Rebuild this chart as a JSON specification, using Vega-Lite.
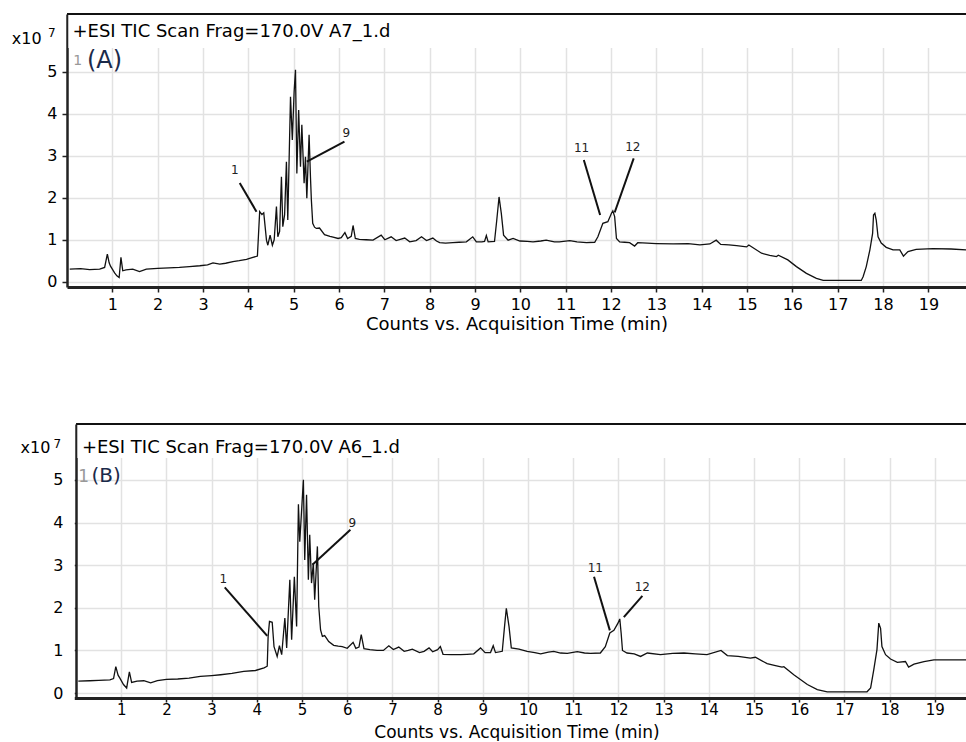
{
"$schema": "https://vega.github.io/schema/vega-lite/v6.json",
"background": "white",
"padding": {"left": 11, "top": 13, "right": 0, "bottom": 0},
"spacing": 90,
"config": {
  "font": "DejaVu Sans",
  "view": {"stroke": null},
  "axis": {"labelFont": "DejaVu Sans", "titleFont": "DejaVu Sans", "labelColor": "#000", "titleColor": "#000", "gridColor": "#e2e2e2", "gridWidth": 1.5, "domainColor": "#222", "tickColor": "#222", "labelFontSize": 16, "titleFontWeight": "normal", "labelFlush": false, "labelOverlap": false}
},
"datasets": {
  "traceA": [
    {"time":0.06,"counts":0.30},{"time":0.30,"counts":0.31},{"time":0.50,"counts":0.29},{"time":0.72,"counts":0.30},{"time":0.83,"counts":0.34},{"time":0.89,"counts":0.66},{"time":0.93,"counts":0.45},{"time":0.96,"counts":0.37},{"time":1.05,"counts":0.21},{"time":1.10,"counts":0.14},{"time":1.15,"counts":0.10},{"time":1.19,"counts":0.58},{"time":1.23,"counts":0.26},{"time":1.30,"counts":0.28},{"time":1.45,"counts":0.30},{"time":1.60,"counts":0.24},{"time":1.75,"counts":0.30},{"time":2.00,"counts":0.32},{"time":2.25,"counts":0.33},{"time":2.48,"counts":0.34},{"time":2.70,"counts":0.36},{"time":2.93,"counts":0.38},{"time":3.10,"counts":0.40},{"time":3.22,"counts":0.45},{"time":3.37,"counts":0.42},{"time":3.50,"counts":0.44},{"time":3.66,"counts":0.48},{"time":3.80,"counts":0.50},{"time":3.96,"counts":0.53},{"time":4.10,"counts":0.58},{"time":4.20,"counts":0.61},{"time":4.25,"counts":1.67},{"time":4.30,"counts":1.60},{"time":4.34,"counts":1.64},{"time":4.40,"counts":0.99},{"time":4.43,"counts":0.87},{"time":4.48,"counts":1.11},{"time":4.53,"counts":0.87},{"time":4.57,"counts":1.00},{"time":4.62,"counts":1.79},{"time":4.65,"counts":1.07},{"time":4.69,"counts":1.20},{"time":4.73,"counts":2.50},{"time":4.76,"counts":1.31},{"time":4.80,"counts":1.60},{"time":4.84,"counts":2.86},{"time":4.87,"counts":1.47},{"time":4.93,"counts":4.41},{"time":4.97,"counts":3.38},{"time":5.01,"counts":4.53},{"time":5.04,"counts":5.05},{"time":5.07,"counts":2.58},{"time":5.11,"counts":4.09},{"time":5.15,"counts":2.74},{"time":5.18,"counts":3.74},{"time":5.23,"counts":2.35},{"time":5.26,"counts":2.98},{"time":5.29,"counts":1.99},{"time":5.34,"counts":3.50},{"time":5.37,"counts":2.50},{"time":5.39,"counts":1.95},{"time":5.42,"counts":1.39},{"time":5.46,"counts":1.30},{"time":5.50,"counts":1.27},{"time":5.57,"counts":1.28},{"time":5.68,"counts":1.12},{"time":5.80,"counts":1.08},{"time":5.87,"counts":1.06},{"time":5.98,"counts":1.03},{"time":6.05,"counts":1.05},{"time":6.13,"counts":1.17},{"time":6.19,"counts":1.03},{"time":6.27,"counts":1.08},{"time":6.31,"counts":1.34},{"time":6.36,"counts":1.03},{"time":6.45,"counts":1.01},{"time":6.60,"counts":1.00},{"time":6.75,"counts":0.99},{"time":6.93,"counts":1.11},{"time":7.01,"counts":1.00},{"time":7.15,"counts":1.07},{"time":7.26,"counts":0.98},{"time":7.35,"counts":1.01},{"time":7.45,"counts":1.04},{"time":7.56,"counts":0.95},{"time":7.70,"counts":0.98},{"time":7.82,"counts":1.07},{"time":7.93,"counts":0.98},{"time":8.07,"counts":1.04},{"time":8.15,"counts":0.97},{"time":8.22,"counts":0.93},{"time":8.35,"counts":0.92},{"time":8.51,"counts":0.93},{"time":8.65,"counts":0.94},{"time":8.81,"counts":0.95},{"time":8.95,"counts":1.07},{"time":9.03,"counts":0.95},{"time":9.15,"counts":0.95},{"time":9.21,"counts":0.96},{"time":9.25,"counts":1.10},{"time":9.29,"counts":0.95},{"time":9.43,"counts":0.96},{"time":9.48,"counts":1.47},{"time":9.53,"counts":2.02},{"time":9.58,"counts":1.63},{"time":9.63,"counts":1.11},{"time":9.73,"counts":0.99},{"time":9.84,"counts":1.03},{"time":9.99,"counts":0.97},{"time":10.15,"counts":0.96},{"time":10.28,"counts":0.95},{"time":10.45,"counts":0.97},{"time":10.57,"counts":0.99},{"time":10.75,"counts":0.95},{"time":10.86,"counts":0.95},{"time":11.09,"counts":0.98},{"time":11.25,"counts":0.95},{"time":11.46,"counts":0.93},{"time":11.64,"counts":0.94},{"time":11.71,"counts":1.07},{"time":11.82,"counts":1.39},{"time":11.93,"counts":1.43},{"time":12.01,"counts":1.63},{"time":12.04,"counts":1.69},{"time":12.08,"counts":1.55},{"time":12.12,"counts":1.03},{"time":12.19,"counts":0.95},{"time":12.30,"counts":0.94},{"time":12.41,"counts":0.93},{"time":12.52,"counts":0.85},{"time":12.59,"counts":0.93},{"time":12.80,"counts":0.92},{"time":13.00,"counts":0.91},{"time":13.37,"counts":0.90},{"time":13.70,"counts":0.91},{"time":13.96,"counts":0.88},{"time":14.18,"counts":0.90},{"time":14.32,"counts":0.99},{"time":14.42,"counts":0.89},{"time":14.60,"counts":0.88},{"time":14.77,"counts":0.86},{"time":14.99,"counts":0.83},{"time":15.04,"counts":0.875},{"time":15.32,"counts":0.68},{"time":15.50,"counts":0.63},{"time":15.65,"counts":0.60},{"time":15.69,"counts":0.63},{"time":15.90,"counts":0.52},{"time":16.09,"counts":0.36},{"time":16.31,"counts":0.20},{"time":16.53,"counts":0.08},{"time":16.68,"counts":0.03},{"time":17.52,"counts":0.03},{"time":17.56,"counts":0.12},{"time":17.63,"counts":0.36},{"time":17.71,"counts":0.76},{"time":17.77,"counts":1.15},{"time":17.79,"counts":1.59},{"time":17.82,"counts":1.63},{"time":17.85,"counts":1.47},{"time":17.89,"counts":1.07},{"time":17.96,"counts":0.92},{"time":18.07,"counts":0.82},{"time":18.22,"counts":0.76},{"time":18.37,"counts":0.76},{"time":18.45,"counts":0.61},{"time":18.55,"counts":0.72},{"time":18.73,"counts":0.77},{"time":19.10,"counts":0.79},{"time":19.50,"counts":0.78},{"time":19.83,"counts":0.76}
  ],
  "traceB": [
    {"time":0.05,"counts":0.28},{"time":0.30,"counts":0.29},{"time":0.50,"counts":0.30},{"time":0.75,"counts":0.31},{"time":0.83,"counts":0.34},{"time":0.88,"counts":0.62},{"time":0.93,"counts":0.42},{"time":0.97,"counts":0.35},{"time":1.05,"counts":0.20},{"time":1.12,"counts":0.12},{"time":1.18,"counts":0.50},{"time":1.23,"counts":0.25},{"time":1.35,"counts":0.28},{"time":1.50,"counts":0.29},{"time":1.65,"counts":0.24},{"time":1.80,"counts":0.29},{"time":2.00,"counts":0.32},{"time":2.25,"counts":0.33},{"time":2.50,"counts":0.35},{"time":2.75,"counts":0.39},{"time":3.00,"counts":0.41},{"time":3.20,"counts":0.43},{"time":3.45,"counts":0.46},{"time":3.71,"counts":0.51},{"time":3.97,"counts":0.53},{"time":4.16,"counts":0.59},{"time":4.23,"counts":0.63},{"time":4.25,"counts":1.33},{"time":4.28,"counts":1.68},{"time":4.34,"counts":1.66},{"time":4.38,"counts":1.09},{"time":4.45,"counts":0.86},{"time":4.50,"counts":1.11},{"time":4.55,"counts":0.90},{"time":4.62,"counts":1.76},{"time":4.66,"counts":1.06},{"time":4.73,"counts":2.66},{"time":4.77,"counts":1.25},{"time":4.83,"counts":2.73},{"time":4.88,"counts":1.56},{"time":4.92,"counts":4.43},{"time":4.95,"counts":3.55},{"time":5.03,"counts":5.00},{"time":5.06,"counts":3.12},{"time":5.10,"counts":4.65},{"time":5.14,"counts":2.66},{"time":5.17,"counts":3.71},{"time":5.21,"counts":2.58},{"time":5.25,"counts":3.05},{"time":5.28,"counts":2.19},{"time":5.34,"counts":3.44},{"time":5.37,"counts":2.03},{"time":5.41,"counts":1.48},{"time":5.45,"counts":1.33},{"time":5.50,"counts":1.35},{"time":5.54,"counts":1.29},{"time":5.59,"counts":1.21},{"time":5.70,"counts":1.12},{"time":5.80,"counts":1.10},{"time":5.89,"counts":1.09},{"time":6.00,"counts":1.05},{"time":6.13,"counts":1.19},{"time":6.19,"counts":1.05},{"time":6.26,"counts":1.08},{"time":6.31,"counts":1.37},{"time":6.37,"counts":1.04},{"time":6.50,"counts":1.02},{"time":6.66,"counts":1.00},{"time":6.80,"counts":1.00},{"time":6.92,"counts":1.11},{"time":7.02,"counts":1.02},{"time":7.14,"counts":1.08},{"time":7.26,"counts":0.98},{"time":7.35,"counts":1.00},{"time":7.44,"counts":1.03},{"time":7.60,"counts":0.95},{"time":7.70,"counts":0.98},{"time":7.81,"counts":1.06},{"time":7.89,"counts":0.97},{"time":8.00,"counts":1.02},{"time":8.06,"counts":1.09},{"time":8.12,"counts":0.91},{"time":8.30,"counts":0.90},{"time":8.51,"counts":0.90},{"time":8.65,"counts":0.91},{"time":8.80,"counts":0.92},{"time":8.95,"counts":1.06},{"time":9.05,"counts":0.95},{"time":9.17,"counts":0.95},{"time":9.23,"counts":1.11},{"time":9.28,"counts":0.95},{"time":9.43,"counts":0.98},{"time":9.48,"counts":1.56},{"time":9.52,"counts":1.99},{"time":9.58,"counts":1.56},{"time":9.63,"counts":1.06},{"time":9.80,"counts":1.03},{"time":9.98,"counts":0.98},{"time":10.15,"counts":0.95},{"time":10.28,"counts":0.92},{"time":10.45,"counts":0.96},{"time":10.57,"counts":0.98},{"time":10.72,"counts":0.94},{"time":10.87,"counts":0.93},{"time":11.09,"counts":0.97},{"time":11.25,"counts":0.94},{"time":11.38,"counts":0.93},{"time":11.60,"counts":0.94},{"time":11.71,"counts":1.09},{"time":11.81,"counts":1.41},{"time":11.90,"counts":1.47},{"time":11.99,"counts":1.64},{"time":12.03,"counts":1.74},{"time":12.06,"counts":1.41},{"time":12.09,"counts":1.00},{"time":12.19,"counts":0.94},{"time":12.35,"counts":0.92},{"time":12.49,"counts":0.86},{"time":12.64,"counts":0.94},{"time":12.93,"counts":0.90},{"time":13.20,"counts":0.93},{"time":13.45,"counts":0.94},{"time":13.70,"counts":0.92},{"time":13.96,"counts":0.90},{"time":14.27,"counts":1.00},{"time":14.41,"counts":0.88},{"time":14.65,"counts":0.86},{"time":14.92,"counts":0.82},{"time":15.03,"counts":0.84},{"time":15.29,"counts":0.69},{"time":15.45,"counts":0.65},{"time":15.62,"counts":0.61},{"time":15.66,"counts":0.62},{"time":15.88,"counts":0.43},{"time":16.18,"counts":0.20},{"time":16.40,"counts":0.08},{"time":16.62,"counts":0.03},{"time":17.50,"counts":0.03},{"time":17.58,"counts":0.12},{"time":17.65,"counts":0.55},{"time":17.72,"counts":1.02},{"time":17.76,"counts":1.64},{"time":17.80,"counts":1.52},{"time":17.83,"counts":1.09},{"time":17.91,"counts":0.90},{"time":18.02,"counts":0.80},{"time":18.17,"counts":0.72},{"time":18.35,"counts":0.74},{"time":18.42,"counts":0.61},{"time":18.54,"counts":0.68},{"time":18.76,"counts":0.74},{"time":18.98,"counts":0.78},{"time":19.30,"counts":0.78},{"time":19.69,"counts":0.78}
  ],
  "peaksA": [
    {"label":"1","lx":3.70,"ly":2.66,"x1":3.81,"y1":2.35,"x2":4.18,"y2":1.67},
    {"label":"9","lx":6.16,"ly":3.54,"x1":6.12,"y1":3.34,"x2":5.29,"y2":2.86},
    {"label":"11","lx":11.35,"ly":3.18,"x1":11.40,"y1":2.90,"x2":11.76,"y2":1.59},
    {"label":"12","lx":12.48,"ly":3.20,"x1":12.50,"y1":2.94,"x2":12.08,"y2":1.65}
  ],
  "peaksB": [
    {"label":"1","lx":3.26,"ly":2.68,"x1":3.29,"y1":2.48,"x2":4.23,"y2":1.34},
    {"label":"9","lx":6.11,"ly":3.98,"x1":6.07,"y1":3.83,"x2":5.23,"y2":3.01},
    {"label":"11","lx":11.49,"ly":2.93,"x1":11.46,"y1":2.73,"x2":11.81,"y2":1.47},
    {"label":"12","lx":12.53,"ly":2.48,"x1":12.53,"y1":2.28,"x2":12.12,"y2":1.78}
  ]
},
"vconcat": [
  {
    "width": 899,
    "height": 273,
    "layer": [
      {
        "data": {"name": "traceA"},
        "mark": {"type": "line", "color": "#111", "strokeWidth": 1.3},
        "encoding": {
          "x": {"field": "time", "type": "quantitative",
                "scale": {"domain": [0, 19.83], "nice": false, "zero": false},
                "axis": {"values": [1,2,3,4,5,6,7,8,9,10,11,12,13,14,15,16,17,18,19], "grid": true, "title": "Counts vs. Acquisition Time (min)", "titleFontSize": 18, "titleY": 42, "titleBaseline": "alphabetic", "tickSize": 5, "tickWidth": 1.5, "labelPadding": 4, "domainWidth": 3}},
          "y": {"field": "counts", "type": "quantitative",
                "scale": {"domain": [-0.126, 6.38], "nice": false, "zero": false},
                "axis": {"values": [0,1,2,3,4,5], "grid": true, "title": "x10", "titleAngle": 0, "titleX": -55.7, "titleY": 29.7, "titleAlign": "left", "titleBaseline": "alphabetic", "titleFontSize": 16, "tickSize": 5, "tickWidth": 1.5, "labelPadding": 5, "domainWidth": 2.5}}
        }
      },
      {
        "data": {"values": [{}]},
        "mark": {"type": "rect", "fill": "white", "stroke": null},
        "encoding": {
          "x": {"datum": 0.03, "type": "quantitative"},
          "x2": {"datum": 19.83},
          "y": {"datum": 5.57, "type": "quantitative"},
          "y2": {"datum": 6.38}
        }
      },
      {
        "data": {"values": [{}]},
        "mark": {"type": "rule", "color": "#111", "strokeWidth": 2},
        "encoding": {
          "x": {"datum": 0, "type": "quantitative"},
          "x2": {"datum": 19.83},
          "y": {"datum": 6.38, "type": "quantitative"}
        }
      },
      {
        "data": {"values": [{}]},
        "mark": {"type": "text", "text": "+ESI TIC Scan Frag=170.0V A7_1.d", "align": "left", "baseline": "alphabetic", "fontSize": 18, "color": "#000"},
        "encoding": {
          "x": {"datum": 0.12, "type": "quantitative"},
          "y": {"datum": 5.84, "type": "quantitative"}
        }
      },
      {
        "data": {"values": [{}]},
        "mark": {"type": "text", "text": "7", "align": "left", "baseline": "alphabetic", "fontSize": 12, "color": "#000"},
        "encoding": {
          "x": {"datum": -0.42, "type": "quantitative"},
          "y": {"datum": 5.82, "type": "quantitative"}
        }
      },
      {
        "data": {"values": [{}]},
        "mark": {"type": "text", "text": "1", "align": "left", "baseline": "alphabetic", "fontSize": 14, "color": "#999"},
        "encoding": {
          "x": {"datum": 0.14, "type": "quantitative"},
          "y": {"datum": 5.17, "type": "quantitative"}
        }
      },
      {
        "data": {"values": [{}]},
        "mark": {"type": "text", "text": "(A)", "align": "left", "baseline": "alphabetic", "fontSize": 24, "color": "#1b2a4a"},
        "encoding": {
          "x": {"datum": 0.44, "type": "quantitative"},
          "y": {"datum": 5.09, "type": "quantitative"}
        }
      },
      {
        "data": {"name": "peaksA"},
        "mark": {"type": "rule", "color": "#111", "strokeWidth": 2},
        "encoding": {
          "x": {"field": "x1", "type": "quantitative"},
          "y": {"field": "y1", "type": "quantitative"},
          "x2": {"field": "x2"},
          "y2": {"field": "y2"}
        }
      },
      {
        "data": {"name": "peaksA"},
        "mark": {"type": "text", "align": "center", "baseline": "middle", "fontSize": 12, "color": "#222"},
        "encoding": {
          "x": {"field": "lx", "type": "quantitative"},
          "y": {"field": "ly", "type": "quantitative"},
          "text": {"field": "label"}
        }
      }
    ]
  },
  {
    "width": 899,
    "height": 274,
    "layer": [
      {
        "data": {"name": "traceB"},
        "mark": {"type": "line", "color": "#111", "strokeWidth": 1.3},
        "encoding": {
          "x": {"field": "time", "type": "quantitative",
                "scale": {"domain": [-0.2, 19.69], "nice": false, "zero": false},
                "axis": {"values": [1,2,3,4,5,6,7,8,9,10,11,12,13,14,15,16,17,18,19], "grid": true, "title": "Counts vs. Acquisition Time (min)", "titleFontSize": 17, "titleY": 39.5, "titleBaseline": "alphabetic", "tickSize": 4, "tickWidth": 1.5, "labelPadding": 0, "labelFontSize": 15, "domainWidth": 3}},
          "y": {"field": "counts", "type": "quantitative",
                "scale": {"domain": [-0.115, 6.31], "nice": false, "zero": false},
                "axis": {"values": [0,1,2,3,4,5], "grid": true, "offset": -9, "title": "x10", "titleAngle": 0, "titleX": -56, "titleY": 28, "titleAlign": "left", "titleBaseline": "alphabetic", "titleFontSize": 16, "tickSize": 8, "tickWidth": 1.5, "labelPadding": 5, "domainWidth": 2.5}}
        }
      },
      {
        "data": {"values": [{}]},
        "mark": {"type": "rect", "fill": "white", "stroke": null},
        "encoding": {
          "x": {"datum": -0.2, "type": "quantitative"},
          "x2": {"datum": -0.028},
          "y": {"datum": -0.3, "type": "quantitative"},
          "y2": {"datum": 6.31}
        }
      },
      {
        "data": {"values": [{}]},
        "mark": {"type": "rect", "fill": "white", "stroke": null},
        "encoding": {
          "x": {"datum": 0.03, "type": "quantitative"},
          "x2": {"datum": 19.69},
          "y": {"datum": 5.51, "type": "quantitative"},
          "y2": {"datum": 6.31}
        }
      },
      {
        "data": {"values": [{}]},
        "mark": {"type": "rule", "color": "#111", "strokeWidth": 2},
        "encoding": {
          "x": {"datum": 0, "type": "quantitative"},
          "x2": {"datum": 19.69},
          "y": {"datum": 6.31, "type": "quantitative"}
        }
      },
      {
        "data": {"values": [{}]},
        "mark": {"type": "text", "text": "+ESI TIC Scan Frag=170.0V A6_1.d", "align": "left", "baseline": "alphabetic", "fontSize": 18, "color": "#000"},
        "encoding": {
          "x": {"datum": 0.13, "type": "quantitative"},
          "y": {"datum": 5.62, "type": "quantitative"}
        }
      },
      {
        "data": {"values": [{}]},
        "mark": {"type": "text", "text": "7", "align": "left", "baseline": "alphabetic", "fontSize": 12, "color": "#000"},
        "encoding": {
          "x": {"datum": -0.5, "type": "quantitative"},
          "y": {"datum": 5.74, "type": "quantitative"}
        }
      },
      {
        "data": {"values": [{}]},
        "mark": {"type": "text", "text": "1", "align": "left", "baseline": "alphabetic", "fontSize": 17, "color": "#999"},
        "encoding": {
          "x": {"datum": 0.05, "type": "quantitative"},
          "y": {"datum": 4.95, "type": "quantitative"}
        }
      },
      {
        "data": {"values": [{}]},
        "mark": {"type": "text", "text": "(B)", "align": "left", "baseline": "alphabetic", "fontSize": 20, "color": "#1b2a4a"},
        "encoding": {
          "x": {"datum": 0.34, "type": "quantitative"},
          "y": {"datum": 4.96, "type": "quantitative"}
        }
      },
      {
        "data": {"name": "peaksB"},
        "mark": {"type": "rule", "color": "#111", "strokeWidth": 2},
        "encoding": {
          "x": {"field": "x1", "type": "quantitative"},
          "y": {"field": "y1", "type": "quantitative"},
          "x2": {"field": "x2"},
          "y2": {"field": "y2"}
        }
      },
      {
        "data": {"name": "peaksB"},
        "mark": {"type": "text", "align": "center", "baseline": "middle", "fontSize": 12, "color": "#222"},
        "encoding": {
          "x": {"field": "lx", "type": "quantitative"},
          "y": {"field": "ly", "type": "quantitative"},
          "text": {"field": "label"}
        }
      }
    ]
  }
]
}
